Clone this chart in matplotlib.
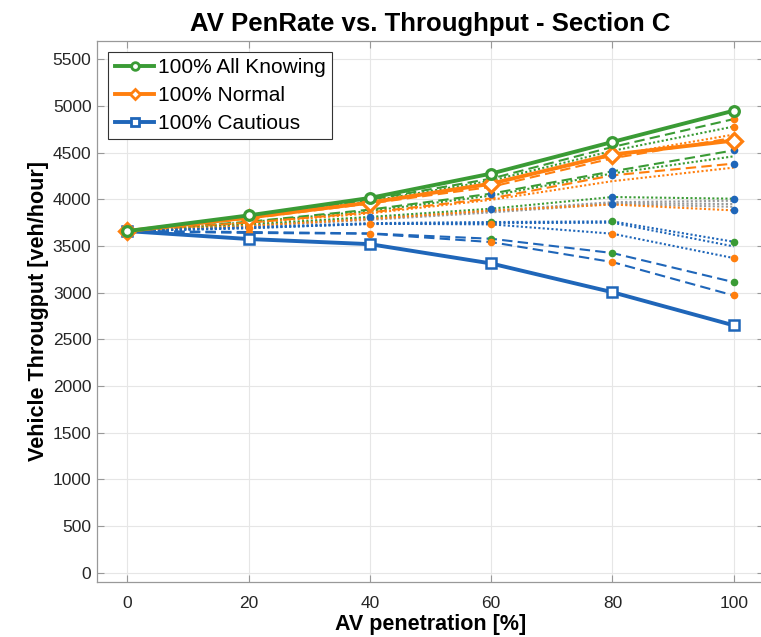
import matplotlib
matplotlib.use("Agg")
import matplotlib.pyplot as plt

plt.rcParams['font.family'] = ['Liberation Sans', 'DejaVu Sans']

pen = [0, 20, 40, 60, 80, 100]

# main scenarios
all_knowing = [3660, 3828, 4015, 4276, 4615, 4950]
normal = [3660, 3805, 3965, 4168, 4480, 4630]
cautious = [3660, 3575, 3520, 3313, 3005, 2650]

# mixed scenarios (thin lines)
mix_values = [
    [3660, 3815, 3995, 4222, 4561, 4860],
    [3660, 3805, 3980, 4200, 4520, 4780],
    [3660, 3800, 3965, 4170, 4470, 4694],
    [3660, 3795, 3955, 4134, 4440, 4660],
    [3660, 3760, 3890, 4061, 4300, 4525],
    [3660, 3755, 3875, 4040, 4278, 4461],
    [3660, 3750, 3860, 4010, 4257, 4383],
    [3660, 3745, 3850, 3995, 4195, 4340],
    [3660, 3720, 3800, 3880, 3970, 3985],
    [3660, 3715, 3790, 3870, 3960, 3950],
    [3660, 3710, 3780, 3860, 3950, 3920],
    [3660, 3730, 3812, 3900, 4025, 4007],
    [3660, 3715, 3790, 3880, 3945, 3882],
    [3660, 3700, 3745, 3757, 3764, 3546],
    [3660, 3695, 3735, 3745, 3750, 3496],
    [3660, 3690, 3739, 3732, 3632, 3371],
    [3660, 3650, 3635, 3578, 3425, 3113],
    [3660, 3640, 3632, 3542, 3328, 2970],
]

green = '#3a9b35'
orange = '#ff7f0e'
blue = '#1f66b9'
gray = '#9a9a9a'

mix_colors = [green, green, orange, orange, green, green, orange, orange,
              gray, gray, gray, green, orange, blue, blue, blue, blue, blue]
mix_styles = ['--', ':', ':', '--', '--', ':', '--', ':',
              ':', ':', ':', ':', ':', ':', ':', ':', '--', '--']
G, O, B, N = green, orange, blue, None
mix_dots = [
    [N, N, N, N, N, O],
    [N, N, N, N, N, O],
    [N] * 6,
    [N] * 6,
    [N, N, N, B, B, B],
    [N] * 6,
    [N, N, N, N, B, B],
    [N] * 6,
    [N] * 6,
    [N] * 6,
    [N] * 6,
    [N, N, B, B, B, B],
    [N, N, N, N, B, B],
    [N, N, N, G, G, G],
    [N] * 6,
    [N, O, O, O, O, O],
    [N, N, N, G, G, G],
    [N, O, O, O, O, O],
]

fig = plt.figure(figsize=(7.61, 6.37), dpi=100)
ax = fig.add_axes([97 / 761, 55 / 637, 667 / 761, 541.3 / 637])

for vals, c, ls, dots in zip(mix_values, mix_colors, mix_styles, mix_dots):
    line, = ax.plot(pen, vals, color=c, lw=1.5, ls=ls, zorder=2)
    if ls == '--':
        line.set_dashes((5, 2.5))
    else:
        line.set_dashes((1, 1.1))
    for x, y, dc in zip(pen, vals, dots):
        if dc is not None:
            ax.plot(x, y, 'o', color=dc, ms=5.5, mec='none', zorder=3)

ax.plot(pen, all_knowing, '-o', color=green, lw=2.8, ms=7, mfc='white',
        mew=2.3, label='100% All Knowing', zorder=5)
ax.plot(pen, normal, '-D', color=orange, lw=2.8, ms=8, mfc='white',
        mew=2.3, label='100% Normal', zorder=4.5)
ax.plot(pen, cautious, '-s', color=blue, lw=2.8, ms=6.5, mfc='white',
        mew=1.8, label='100% Cautious', zorder=4)

ax.set_xlim(-5, 105)
ax.set_ylim(-100, 5700)
ax.set_xticks(pen)
ax.set_yticks(range(0, 5501, 500))
ax.grid(True, color='#e6e6e6', lw=0.8)
ax.set_axisbelow(True)
ax.tick_params(direction='in', length=5, width=0.8, colors='#999999',
               labelcolor='#262626', labelsize=12.5, top=True, right=True)
ax.tick_params(axis='x', pad=10)
ax.tick_params(axis='y', pad=4)
for s in ax.spines.values():
    s.set_color('#999999')
    s.set_linewidth(0.9)

ax.set_title('AV PenRate vs. Throughput - Section C', fontsize=18.5,
             fontweight='bold', pad=7)
ax.set_xlabel('AV penetration [%]', fontsize=15.5, fontweight='bold', labelpad=2)
ax.set_ylabel('Vehicle Througput [veh/hour]', fontsize=15.5, fontweight='bold',
              labelpad=3)

leg = ax.legend(loc='upper left', fontsize=15, fancybox=False, framealpha=1,
                edgecolor='#333333', borderpad=0.3, labelspacing=0.42,
                handlelength=1.9, handletextpad=0.2, borderaxespad=0.55)
leg.get_frame().set_linewidth(0.8)
for h in leg.legend_handles:
    h.set_markersize(5.5)
    h.set_markeredgewidth(2)

fig.savefig('out.png', dpi=100)
